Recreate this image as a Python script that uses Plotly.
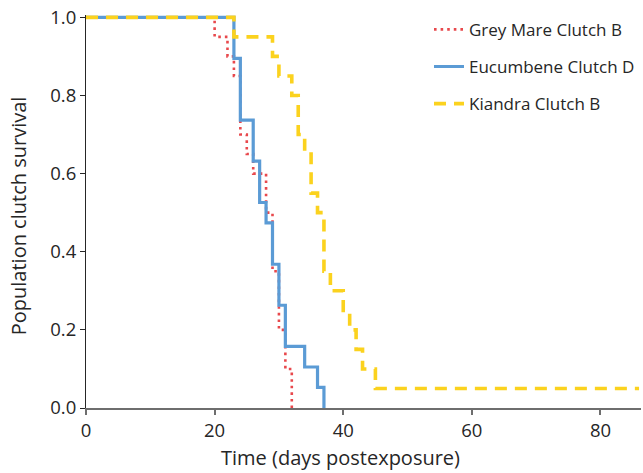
import plotly.graph_objects as go

# ---- data ----
grey_days = [0, 20, 22, 23, 24, 25, 26, 28, 29, 30, 31, 32]
grey_surv = [1.0, 0.95, 0.90, 0.85, 0.70, 0.65, 0.60, 0.50, 0.35, 0.20, 0.10, 0.0]

euc_days = [0, 23, 24, 26, 27, 28, 29, 30, 31, 34, 36, 37]
euc_surv = [1.0, 0.895, 0.737, 0.632, 0.526, 0.474, 0.368, 0.263, 0.158, 0.105, 0.053, 0.0]

kia_days = [0, 23, 29, 30, 32, 33, 34, 35, 36, 37, 38, 40, 41, 42, 43, 45, 86]
kia_surv = [1.0, 0.95, 0.90, 0.85, 0.80, 0.70, 0.65, 0.55, 0.50, 0.35, 0.30, 0.25, 0.20, 0.15, 0.10, 0.05, 0.05]

series_names = ["Grey Mare Clutch B", "Eucumbene Clutch D", "Kiandra Clutch B"]
x_ticks = [0, 20, 40, 60, 80]
y_ticks = [0.0, 0.2, 0.4, 0.6, 0.8, 1.0]
y_tick_labels = ["0.0", "0.2", "0.4", "0.6", "0.8", "1.0"]

FONT = "Open Sans"

fig = go.Figure()
fig.add_trace(go.Scatter(
    x=grey_days, y=grey_surv, name=series_names[0], mode="lines",
    line=dict(shape="hv", color="#E8484C", width=2.6, dash="2.6px,4px"),
    legendgroup="a"))
fig.add_trace(go.Scatter(
    x=euc_days, y=euc_surv, name=series_names[1], mode="lines",
    line=dict(shape="hv", color="#5B9BD5", width=3.2),
    legendgroup="b"))
fig.add_trace(go.Scatter(
    x=kia_days, y=kia_surv, name=series_names[2], mode="lines",
    line=dict(shape="hv", color="#FBD21E", width=3.6, dash="12px,8px"),
    legendgroup="c"))

fig.update_layout(
    width=643, height=473,
    margin=dict(l=86, r=2, t=15, b=65),
    paper_bgcolor="white", plot_bgcolor="white",
    font=dict(family=FONT, color="#262626"),
    showlegend=True,
    legend=dict(x=0.618, y=1.008, xanchor="left", yanchor="top",
                font=dict(size=17, family=FONT, color="#262626"),
                bgcolor="rgba(0,0,0,0)", tracegroupgap=12,
                traceorder="grouped"),
    xaxis=dict(range=[0, 86.3], tickvals=x_ticks, showgrid=False, zeroline=False,
               showline=True, linecolor="#6e6e6e", linewidth=2,
               ticks="outside", ticklen=5, tickcolor="#6e6e6e", tickwidth=1.5,
               tickfont=dict(size=18.5, family=FONT, color="#262626")),
    yaxis=dict(range=[0, 1.006], tickvals=y_ticks, ticktext=y_tick_labels,
               showgrid=False, zeroline=False,
               showline=True, linecolor="#262626", linewidth=1,
               ticks="outside", ticklen=5, tickcolor="#262626", tickwidth=1,
               tickfont=dict(size=18.5, family=FONT, color="#262626")),
    annotations=[
        dict(text="Time (days postexposure)", xref="paper", yref="paper",
             x=0.458, y=-0.125, xanchor="center", yanchor="middle",
             showarrow=False, font=dict(size=20, family=FONT, color="#262626")),
        dict(text="Population clutch survival", xref="paper", yref="paper",
             x=-0.121, y=0.49, xanchor="center", yanchor="middle", textangle=-90,
             showarrow=False, font=dict(size=20, family=FONT, color="#262626")),
    ],
)

fig.write_html("out.html", config={"displayModeBar": False},
               post_script="document.body.style.margin='0';document.body.style.padding='0';")
